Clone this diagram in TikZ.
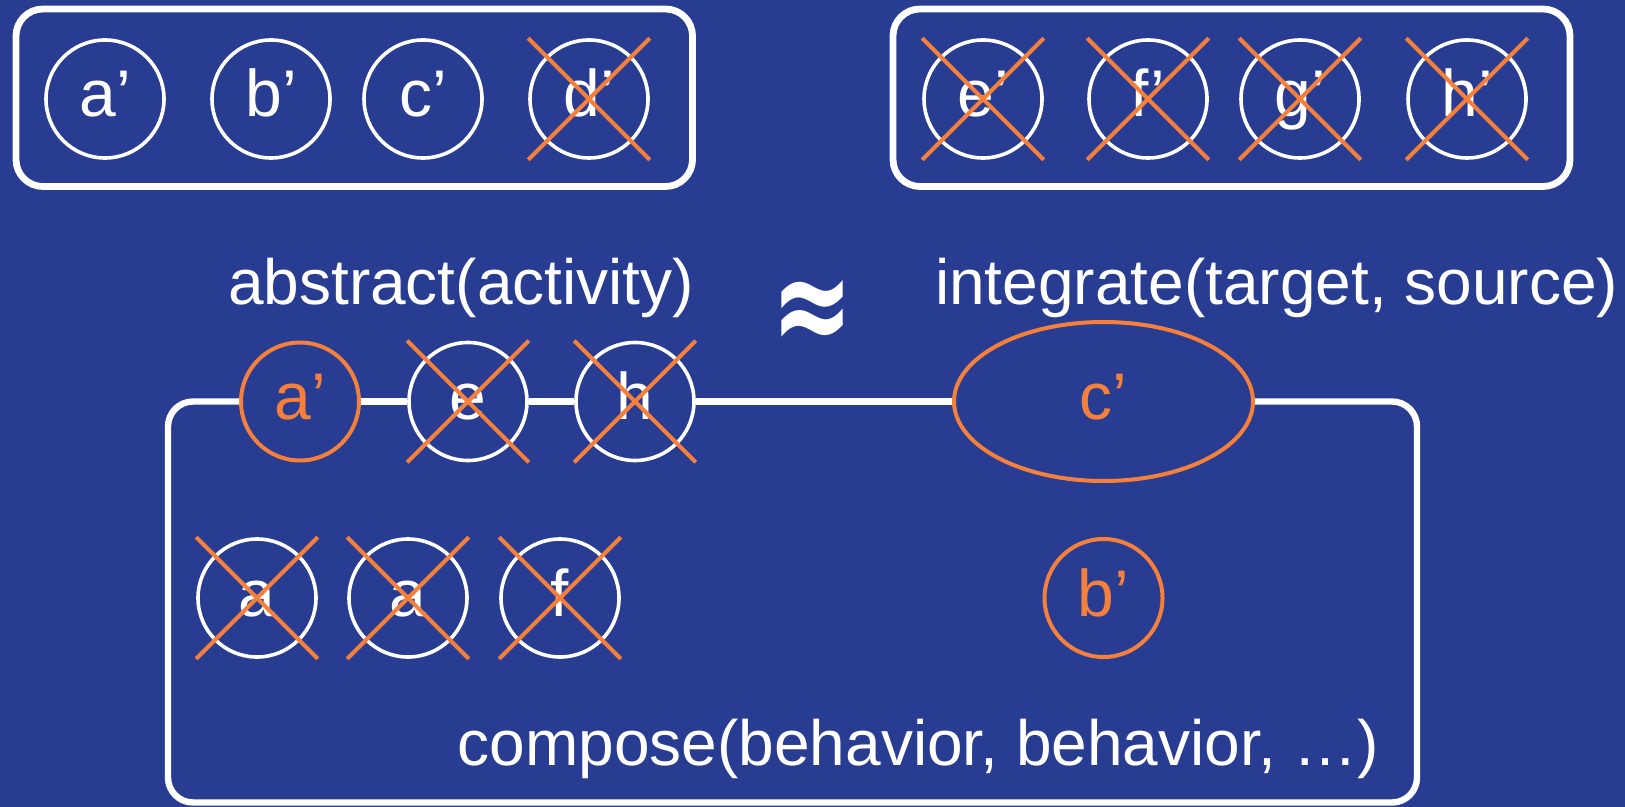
\documentclass[tikz,border=0pt]{standalone}
\usepackage{fontspec}
\setmainfont{Liberation Sans}
\newfontfamily\symfont{DejaVu Sans}
\usetikzlibrary{shapes.geometric}
\definecolor{bg}{RGB}{40,60,145}
\definecolor{org}{RGB}{245,128,60}
\begin{document}
\begin{tikzpicture}[x=0.5pt,y=-0.5pt,
  box/.style={draw=white,line width=3.4pt,rounded corners=13.5pt},
  wc/.style={circle,draw=white,line width=1.8pt,fill=bg,minimum size=59pt,inner sep=0pt,text=white,font=\fontsize{33}{33}\selectfont,text height=24pt,text depth=6pt},
  oc/.style={wc,draw=org,text=org,line width=2pt},
  xline/.style={draw=org,line width=2pt},
  lbl/.style={text=white,font=\fontsize{32}{32}\selectfont,anchor=base,inner sep=0pt},
  conn/.style={draw=white,line width=3.2pt}]
\fill[bg] (0,0) rectangle (1625,807);
\useasboundingbox (0,0) rectangle (1625,807);
% top boxes
\draw[box] (16,9) rectangle (692.5,186.5);
\draw[box] (893,9) rectangle (1570,186.5);
\node[wc] (a1) at (105,99) {a’};
\node[wc] (b1) at (271,99) {b’};
\node[wc] (c1) at (423,99) {c’};
\node[wc] (d1) at (589,99) {d’};
\node[wc] (e1) at (983,99) {e’};
\node[wc] (f1) at (1148,99) {f’};
\node[wc] (g1) at (1300,99) {g’};
\node[wc] (h1) at (1467,99) {h’};
% labels
\node[lbl] (labs) at (461,305) {abstract(activity)};
\node[lbl] (lint) at (1276.5,305) {integrate(target, source)};
\node[text=white,inner sep=0pt] (approx) at (812.5,317) {\scalebox{1.02}[1.45]{\symfont\bfseries\fontsize{48}{48}\selectfont ≈}};
\node[lbl] (lcomp) at (918.5,765) {compose(behavior, behavior, …)};
% bottom box nodes
\node[oc] (a2) at (300,401.5) {a’};
\node[wc] (e2) at (468,401.5) {e};
\node[wc] (h2) at (635,401.5) {h};
\node[oc,ellipse,minimum width=149.5pt,minimum height=79.5pt] (c2) at (1103.5,401.5) {c’};
\node[wc] (x1) at (257,598) {a};
\node[wc] (x2) at (408,598) {a};
\node[wc] (x3) at (560,598) {f};
\node[oc] (b2) at (1103.5,598) {b’};
\coordinate (bbl) at (168,802.5);
\coordinate (btr) at (1417,401.5);
\draw[conn,rounded corners=12.5pt] (a2.west) -| (bbl) -| (btr) -- (c2.east);
\draw[conn] (a2) -- (e2);
\draw[conn] (e2) -- (h2);
\draw[conn] (h2) -- (c2);
% crosses
\foreach \n in {d1,e1,f1,g1,h1,e2,h2,x1,x2,x3}
  \draw[xline] (\n.west |- \n.north) -- (\n.east |- \n.south)
               (\n.west |- \n.south) -- (\n.east |- \n.north);
\end{tikzpicture}
\end{document}
